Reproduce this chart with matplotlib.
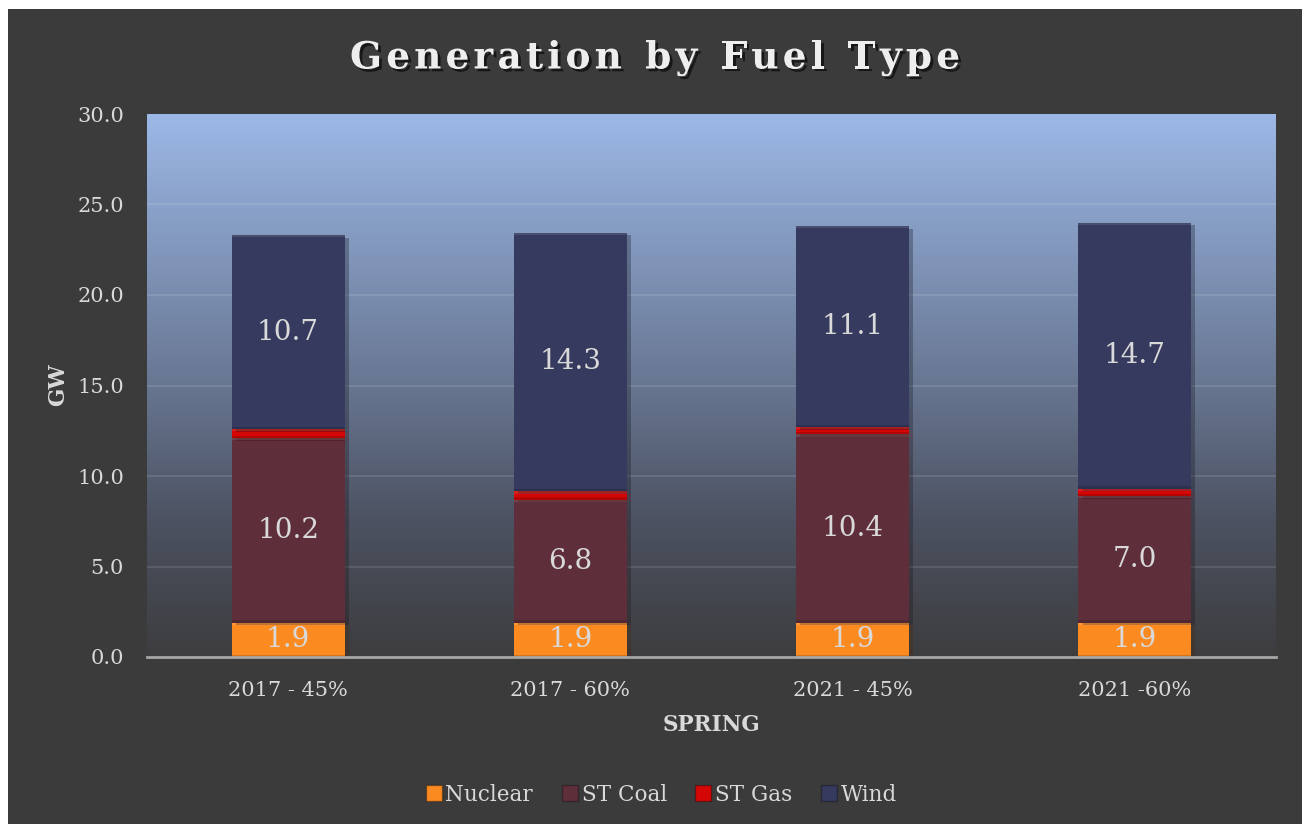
import numpy as np
import matplotlib
matplotlib.use("Agg")
import matplotlib.pyplot as plt
import matplotlib.patheffects as pe
from matplotlib.colors import LinearSegmentedColormap
from matplotlib.patches import Rectangle
from matplotlib.lines import Line2D

categories = ["2017 - 45%", "2017 - 60%", "2021 - 45%", "2021 -60%"]
nuclear = [1.9, 1.9, 1.9, 1.9]
st_coal = [10.2, 6.8, 10.4, 7.0]
st_gas = [0.5, 0.45, 0.4, 0.4]
wind = [10.7, 14.3, 11.1, 14.7]
series_names = ["Nuclear", "ST Coal", "ST Gas", "Wind"]
series_colors = ["#fb8a20", "#5e2f3b", "#d40606", "#363a5e"]
yticks = [0, 5, 10, 15, 20, 25, 30]

FONT = ["DejaVu Serif"]
TXT = "#d9d9d9"
BG = "#3b3b3b"

plt.rcParams["font.family"] = FONT
fig = plt.figure(figsize=(13.02, 8.24), dpi=100, facecolor="white")
fig.patches.append(Rectangle((8 / 1302, 0), 1 - 8 / 1302, 1 - 9 / 824,
                             transform=fig.transFigure, facecolor=BG,
                             edgecolor="none", zorder=-10))

ax = fig.add_axes([147 / 1302, 1 - 657 / 824, (1276 - 147) / 1302, (657 - 114) / 824])
ax.set_facecolor("none")

cmap = LinearSegmentedColormap.from_list(
    "g", [(0.0, "#3d3d3f"), (0.25, "#4c5261"), (0.55, "#6d7d9a"), (1.0, "#9cb8e6")])
grad = np.linspace(0, 1, 256).reshape(-1, 1)
ax.imshow(grad, extent=[-0.5, 3.5, 0, 30], origin="lower", aspect="auto",
          cmap=cmap, zorder=0, interpolation="bicubic")

x = np.arange(len(categories))
w = 0.4
series = [nuclear, st_coal, st_gas, wind]
bottom = np.zeros(len(categories))
for name, vals, col in zip(series_names, series, series_colors):
    vals = np.array(vals)
    ax.bar(x, vals, w, bottom=bottom, color=col, edgecolor="none",
           linewidth=0, zorder=3,
           path_effects=[pe.SimplePatchShadow(offset=(3, -2), alpha=0.3), pe.Normal()])
    ax.bar(x, vals * 0.0 + 0.12, w, bottom=bottom + vals - 0.12,
           color=(1, 1, 1, 0.10), edgecolor="none", zorder=4)
    ax.bar(x, vals * 0.0 + 0.12, w, bottom=bottom,
           color=(0, 0, 0, 0.15), edgecolor="none", zorder=4)
    if name != "ST Gas":
        for xi, b, v in zip(x, bottom, vals):
            ax.text(xi, b + v / 2, f"{v:.1f}", ha="center", va="center",
                    fontsize=20, color=TXT, zorder=5, family=FONT)
    bottom = bottom + vals

ax.set_xlim(-0.5, 3.5)
ax.set_ylim(0, 30)
ax.set_yticks(yticks)
ax.set_yticklabels([f"{v:.1f}" for v in yticks])
ax.set_xticks(x)
ax.set_xticklabels(categories)
ax.tick_params(axis="both", length=0, colors=TXT, labelsize=15)
ax.tick_params(axis="y", pad=16.5)
ax.tick_params(axis="x", pad=17)
for t in ax.get_xticklabels() + ax.get_yticklabels():
    t.set_color(TXT)
for v in yticks[1:-1]:
    ax.axhline(v, color=(1, 1, 1, 0.13), linewidth=1.2, zorder=1)
for s in ["top", "right", "left"]:
    ax.spines[s].set_visible(False)
ax.spines["bottom"].set_color("#a6a6a6")
ax.spines["bottom"].set_linewidth(2)
ax.spines["bottom"].set_zorder(6)

fig.text(58 / 1302, 1 - 385 / 824, "GW", rotation=90, ha="center", va="center",
         fontsize=15.5, fontweight="bold", color=TXT)
fig.text(711 / 1302, 1 - 725 / 824, "SPRING", ha="center", va="center",
         fontsize=15.5, fontweight="bold", color=TXT)

title = "Generation by Fuel Type"
renderer = fig.canvas.get_renderer()
fs = 27
widths = []
for ch in title:
    t = fig.text(0, 0, ch if ch != " " else "n", fontsize=fs, fontweight="bold")
    bb = t.get_window_extent(renderer)
    widths.append(bb.width * (0.55 if ch == " " else 1.0))
    t.remove()
target_w = 610
gap = (target_w - sum(widths)) / (len(title) - 1)
xpos = 655 - target_w / 2
for ch, wd in zip(title, widths):
    if ch != " ":
        fig.text(xpos / 1302, 1 - 58 / 824, ch, fontsize=fs, fontweight="bold",
                 color="#eeeeee", ha="left", va="center",
                 path_effects=[pe.withSimplePatchShadow(offset=(2, -2), alpha=0.6,
                                                        shadow_rgbFace="black")])
    xpos += wd + gap

handles = [Line2D([], [], marker="s", linestyle="none", markersize=11,
                  markerfacecolor=c, markeredgecolor=(0, 0, 0, 0.3))
           for c in series_colors]
leg = fig.legend(handles, series_names, loc="center", bbox_to_anchor=(660 / 1302, 1 - 795 / 824),
                 ncol=4, frameon=False, fontsize=15.5, handletextpad=0.05,
                 columnspacing=1.2, handlelength=1.0)
for t in leg.get_texts():
    t.set_color(TXT)

fig.savefig("out.png", dpi=100, facecolor="white")
